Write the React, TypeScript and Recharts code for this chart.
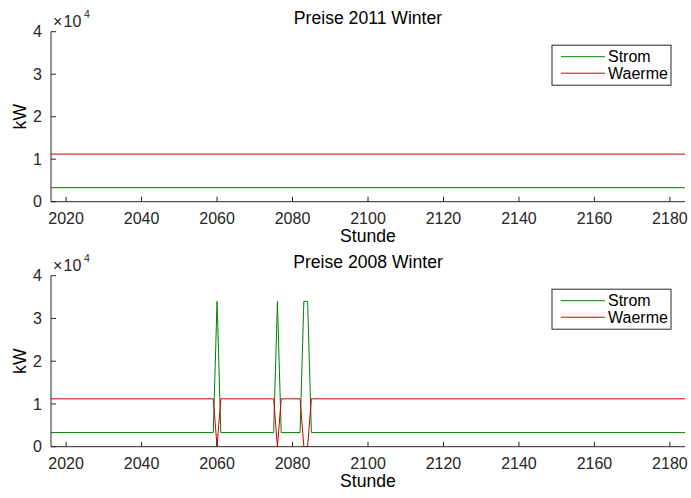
import { Customized, Line, LineChart, XAxis, YAxis } from "recharts";

// x axis: Stunde (hour of year), y axis: kW
const X_TICKS = [2020, 2040, 2060, 2080, 2100, 2120, 2140, 2160, 2180];
const Y_TICKS = [0, 10000, 20000, 30000, 40000];

// Preise 2011 Winter: both series stay flat the whole week
const HOURS_2011 = [2016, 2184];
const STROM_2011 = [3300, 3300];
const WAERME_2011 = [11200, 11200];

// Preise 2008 Winter: three switch events (only the hours where the value changes)
const HOURS_2008 = [2016, 2059, 2060, 2061, 2075, 2076, 2077, 2082, 2083, 2084, 2085, 2184];
const STROM_2008 = [3300, 3300, 34000, 3300, 3300, 34000, 3300, 3300, 34000, 34000, 3300, 3300];
const WAERME_2008 = [11200, 11200, 0, 11200, 11200, 0, 11200, 11200, 0, 0, 11200, 11200];

const SERIES = [
  { key: "strom", name: "Strom", color: "#008000" },
  { key: "waerme", name: "Waerme", color: "#cc0000" },
];

const FONT = "'Liberation Sans', Arial, Helvetica, sans-serif";
const INK = "#262626";
const WIDTH = 691;
const PANEL_HEIGHT = 249;
const PLOT_LEFT = 51;
const PLOT_RIGHT = 685;
const TICK_LEN = 5;

const toRows = (hours: number[], strom: number[], waerme: number[]) =>
  hours.map((stunde, i) => ({ stunde, strom: strom[i], waerme: waerme[i] }));

interface DecorProps {
  title: string;
  plotTop: number;
  plotBottom: number;
}

// title, axis names, x10^4 exponent and the boxed legend, drawn like matlab does
const Decor = ({ title, plotTop, plotBottom }: DecorProps) => {
  const mid = (PLOT_LEFT + PLOT_RIGHT) / 2;
  const lx = 552;
  const ly = plotTop + 13.5;
  return (
    <g fontFamily={FONT} fill="#000">
      <text x={mid} y={plotTop - 8} textAnchor="middle" fontSize={17.6}>
        {title}
      </text>
      <text x={53} y={plotTop - 5} fontSize={16} fill={INK}>
        ×
      </text>
      <text x={63.5} y={plotTop - 5} fontSize={16} fill={INK}>
        10
      </text>
      <text x={84} y={plotTop - 14} fontSize={10.5} fill={INK}>
        4
      </text>
      <text
        transform={`translate(26,${(plotTop + plotBottom) / 2}) rotate(-90)`}
        textAnchor="middle"
        fontSize={17.6}
      >
        kW
      </text>
      <text x={mid} y={plotBottom + 40.5} textAnchor="middle" fontSize={17.6}>
        Stunde
      </text>
      <rect x={lx} y={ly} width={119} height={40} fill="#fff" stroke={INK} strokeWidth={1} />
      {SERIES.map((s, i) => (
        <g key={s.key}>
          <line x1={lx + 9} x2={lx + 53} y1={ly + 11.5 + i * 16.5} y2={ly + 11.5 + i * 16.5} stroke={s.color} />
          <text x={lx + 56} y={ly + 17 + i * 16.5} fontSize={16}>
            {s.name}
          </text>
        </g>
      ))}
    </g>
  );
};

interface PanelProps {
  title: string;
  rows: { stunde: number; strom: number; waerme: number }[];
  marginTop: number;
  axisHeight: number;
}

const Panel = ({ title, rows, marginTop, axisHeight }: PanelProps) => {
  const plotBottom = PANEL_HEIGHT - axisHeight;
  const plotTop = marginTop;

  // inward pointing ticks on all four sides, labels only bottom / left
  const bottomTick = ({ x, payload }: any) => (
    <g>
      <line x1={x} x2={x} y1={plotBottom} y2={plotBottom - TICK_LEN} stroke={INK} />
      <text x={x} y={plotBottom + 22} textAnchor="middle" fontSize={16} fontFamily={FONT} fill={INK}>
        {payload.value}
      </text>
    </g>
  );
  const topTick = ({ x }: any) => (
    <line x1={x} x2={x} y1={plotTop} y2={plotTop + TICK_LEN} stroke={INK} />
  );
  const leftTick = ({ y, payload }: any) => (
    <g>
      <line x1={PLOT_LEFT} x2={PLOT_LEFT + TICK_LEN} y1={y} y2={y} stroke={INK} />
      <text x={42} y={y + 5.6} textAnchor="end" fontSize={16} fontFamily={FONT} fill={INK}>
        {payload.value / 10000}
      </text>
    </g>
  );
  const rightTick = ({ y }: any) => (
    <line x1={PLOT_RIGHT} x2={PLOT_RIGHT - TICK_LEN} y1={y} y2={y} stroke={INK} />
  );

  return (
    <LineChart
      width={WIDTH}
      height={PANEL_HEIGHT}
      data={rows}
      margin={{ top: marginTop, right: WIDTH - PLOT_RIGHT, bottom: 0, left: 0 }}
    >
      <XAxis
        xAxisId="bottom"
        dataKey="stunde"
        type="number"
        domain={[2016, 2184]}
        allowDataOverflow
        ticks={X_TICKS}
        height={axisHeight}
        stroke={INK}
        tickLine={false}
        tick={bottomTick}
      />
      <XAxis
        xAxisId="top"
        orientation="top"
        dataKey="stunde"
        type="number"
        domain={[2016, 2184]}
        allowDataOverflow
        ticks={X_TICKS}
        height={0}
        stroke={INK}
        tickLine={false}
        tick={topTick}
      />
      <YAxis
        yAxisId="left"
        type="number"
        domain={[0, 40000]}
        allowDataOverflow
        ticks={Y_TICKS}
        width={PLOT_LEFT}
        stroke={INK}
        tickLine={false}
        tick={leftTick}
      />
      <YAxis
        yAxisId="right"
        orientation="right"
        type="number"
        domain={[0, 40000]}
        allowDataOverflow
        ticks={Y_TICKS}
        width={0}
        stroke={INK}
        tickLine={false}
        tick={rightTick}
      />
      {SERIES.map((s) => (
        <Line
          key={s.key}
          xAxisId="bottom"
          yAxisId="left"
          type="linear"
          dataKey={s.key}
          name={s.name}
          stroke={s.color}
          strokeWidth={1}
          dot={false}
          activeDot={false}
          isAnimationActive={false}
        />
      ))}
      <Customized component={<Decor title={title} plotTop={plotTop} plotBottom={plotBottom} />} />
    </LineChart>
  );
};

export default function App() {
  return (
    <div
      style={{
        position: "absolute",
        left: 0,
        top: 0,
        width: WIDTH,
        height: 498,
        background: "#fff",
      }}
    >
      <Panel
        title="Preise 2011 Winter"
        rows={toRows(HOURS_2011, STROM_2011, WAERME_2011)}
        marginTop={31.7}
        axisHeight={47.3}
      />
      <Panel
        title="Preise 2008 Winter"
        rows={toRows(HOURS_2008, STROM_2008, WAERME_2008)}
        marginTop={26.7}
        axisHeight={51.3}
      />
    </div>
  );
}
